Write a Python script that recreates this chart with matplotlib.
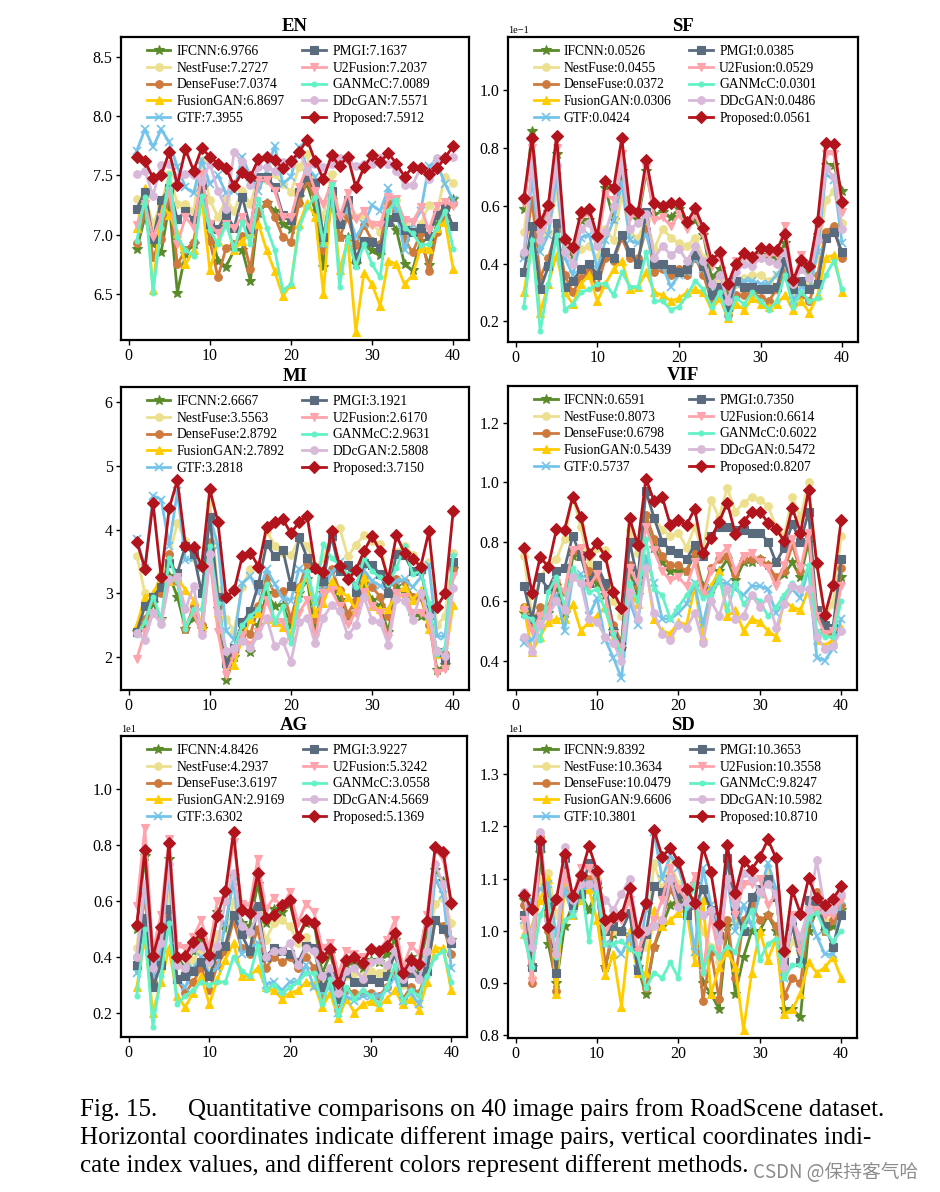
import matplotlib
matplotlib.use("Agg")
import matplotlib.pyplot as plt
import matplotlib.ticker as ticker

plt.rcParams['font.family'] = ['Liberation Serif', 'DejaVu Serif']

methods = ["IFCNN", "NestFuse", "DenseFuse", "FusionGAN", "GTF",
           "PMGI", "U2Fusion", "GANMcC", "DDcGAN", "Proposed"]
colors = ["#5a8a2a", "#ece08e", "#cd7a3c", "#ffcc00", "#74c4ea",
          "#5b6b7e", "#ffa3ad", "#62f2c6", "#d9b9da", "#b2141d"]
markers = ["*", "o", "o", "^", "x", "s", "v", ".", "o", "D"]
pairs = list(range(1, 41))

# values, in axis units (order = methods)
en_vals = [
    [6.88, 7.15, 6.92, 6.85, 7.26, 6.51, 6.84, 6.92, 7.32, 7.06, 6.78, 6.73, 6.87, 6.87, 6.61, 7.18, 7.27, 7.20, 7.09, 7.05,
     7.32, 7.43, 7.20, 6.73, 7.29, 6.98, 6.98, 6.75, 6.92, 6.87, 6.83, 7.15, 7.04, 6.75, 6.70, 6.95, 6.74, 7.09, 7.15, 7.30],
    [7.30, 7.33, 7.09, 7.26, 7.51, 7.26, 7.26, 7.20, 7.63, 7.29, 7.15, 7.30, 7.20, 7.37, 7.26, 7.49, 7.46, 7.51, 7.43, 7.36,
     7.57, 7.68, 7.32, 7.15, 7.51, 7.15, 7.20, 7.15, 7.15, 7.09, 7.02, 7.27, 7.29, 7.09, 7.04, 7.09, 7.25, 7.20, 7.49, 7.44],
    [6.93, 7.19, 6.81, 6.96, 7.35, 6.75, 6.87, 6.94, 7.33, 6.95, 6.64, 6.89, 6.92, 6.99, 6.71, 7.20, 7.27, 7.15, 6.98, 6.94,
     7.27, 7.46, 7.29, 6.87, 7.32, 6.98, 7.15, 6.91, 7.08, 6.95, 6.92, 7.27, 7.20, 6.96, 6.85, 7.01, 6.69, 7.02, 7.17, 7.27],
    [7.06, 7.39, 6.53, 7.26, 7.17, 7.01, 6.75, 6.87, 7.32, 6.70, 6.95, 7.12, 6.87, 6.95, 7.01, 7.09, 6.87, 6.69, 6.48, 6.58,
     7.09, 7.27, 7.15, 6.50, 7.37, 6.70, 6.95, 6.18, 6.68, 6.58, 6.40, 6.78, 6.75, 6.58, 6.66, 6.89, 6.88, 7.06, 7.11, 6.71],
    [7.71, 7.89, 7.74, 7.89, 7.78, 7.57, 7.40, 7.35, 7.63, 7.43, 7.50, 7.35, 7.37, 7.66, 7.49, 7.37, 7.54, 7.75, 7.43, 7.49,
     7.74, 7.57, 7.49, 6.92, 7.35, 7.15, 7.20, 6.98, 7.09, 7.25, 7.20, 7.39, 7.20, 6.87, 7.09, 7.20, 7.58, 7.60, 7.43, 7.29],
    [7.22, 7.36, 6.96, 7.29, 7.39, 7.13, 7.20, 7.12, 7.42, 7.09, 7.05, 7.17, 7.06, 7.32, 7.05, 7.49, 7.49, 7.40, 7.17, 7.12,
     7.36, 7.49, 7.44, 6.98, 7.37, 7.09, 7.29, 6.80, 6.95, 6.94, 6.89, 7.11, 7.15, 7.04, 7.02, 7.06, 6.99, 7.17, 7.23, 7.07],
    [7.08, 7.26, 6.98, 7.15, 7.37, 6.92, 7.15, 7.06, 7.51, 7.09, 7.01, 7.09, 7.06, 7.15, 7.06, 7.46, 7.46, 7.37, 7.15, 7.15,
     7.40, 7.57, 7.37, 7.26, 7.43, 7.15, 7.35, 7.13, 7.20, 7.08, 7.08, 7.32, 7.30, 7.12, 7.11, 7.23, 7.04, 7.24, 7.28, 7.24],
    [6.95, 7.32, 6.51, 7.06, 7.51, 6.98, 6.87, 6.82, 7.33, 7.04, 6.92, 7.09, 6.88, 7.11, 6.92, 7.30, 7.06, 6.87, 6.53, 6.58,
     7.06, 7.23, 7.32, 6.92, 7.43, 6.56, 6.98, 6.73, 6.92, 6.75, 6.64, 7.20, 7.29, 7.06, 7.01, 6.91, 6.92, 7.06, 7.20, 6.88],
    [7.51, 7.54, 7.33, 7.59, 7.60, 7.49, 7.51, 7.50, 7.45, 7.60, 7.37, 7.22, 7.70, 7.61, 7.42, 7.57, 7.57, 7.54, 7.61, 7.60,
     7.71, 7.54, 7.60, 7.57, 7.60, 7.65, 7.63, 7.58, 7.60, 7.60, 7.65, 7.60, 7.54, 7.42, 7.42, 7.57, 7.47, 7.65, 7.65, 7.66],
    [7.66, 7.62, 7.48, 7.50, 7.70, 7.42, 7.72, 7.54, 7.73, 7.66, 7.60, 7.56, 7.41, 7.53, 7.49, 7.64, 7.66, 7.63, 7.56, 7.62,
     7.70, 7.80, 7.62, 7.47, 7.67, 7.58, 7.66, 7.40, 7.57, 7.67, 7.61, 7.69, 7.60, 7.49, 7.57, 7.56, 7.51, 7.56, 7.65, 7.75],
]
en_means = [6.9766, 7.2727, 7.0374, 6.8697, 7.3955, 7.1637, 7.2037, 7.0089, 7.5571, 7.5912]

# SF readings are in units of 1e-1
sf_vals = [
    [0.59, 0.86, 0.52, 0.58, 0.78, 0.47, 0.43, 0.55, 0.55, 0.48, 0.66, 0.55, 0.72, 0.57, 0.55, 0.72, 0.57, 0.58, 0.56, 0.59,
     0.54, 0.55, 0.50, 0.35, 0.38, 0.30, 0.39, 0.43, 0.41, 0.43, 0.42, 0.42, 0.47, 0.33, 0.40, 0.37, 0.50, 0.74, 0.74, 0.65],
    [0.51, 0.72, 0.47, 0.51, 0.65, 0.44, 0.40, 0.45, 0.46, 0.42, 0.52, 0.48, 0.64, 0.50, 0.49, 0.55, 0.45, 0.52, 0.49, 0.47,
     0.46, 0.49, 0.42, 0.31, 0.34, 0.27, 0.33, 0.35, 0.36, 0.36, 0.34, 0.36, 0.40, 0.29, 0.34, 0.33, 0.42, 0.62, 0.65, 0.54],
    [0.43, 0.62, 0.35, 0.42, 0.52, 0.36, 0.30, 0.35, 0.37, 0.32, 0.42, 0.41, 0.49, 0.42, 0.42, 0.52, 0.37, 0.38, 0.36, 0.38,
     0.36, 0.42, 0.36, 0.27, 0.29, 0.22, 0.29, 0.29, 0.30, 0.28, 0.27, 0.31, 0.37, 0.26, 0.29, 0.27, 0.36, 0.51, 0.53, 0.42],
    [0.30, 0.47, 0.23, 0.33, 0.43, 0.30, 0.26, 0.33, 0.36, 0.27, 0.33, 0.38, 0.41, 0.31, 0.32, 0.37, 0.30, 0.29, 0.27, 0.28,
     0.30, 0.31, 0.30, 0.24, 0.28, 0.21, 0.26, 0.24, 0.28, 0.26, 0.25, 0.26, 0.29, 0.24, 0.27, 0.23, 0.29, 0.42, 0.43, 0.30],
    [0.42, 0.70, 0.44, 0.50, 0.70, 0.42, 0.36, 0.49, 0.50, 0.38, 0.48, 0.55, 0.68, 0.48, 0.47, 0.50, 0.40, 0.39, 0.32, 0.36,
     0.37, 0.42, 0.38, 0.30, 0.31, 0.23, 0.33, 0.34, 0.34, 0.33, 0.33, 0.36, 0.40, 0.27, 0.32, 0.31, 0.44, 0.71, 0.69, 0.47],
    [0.37, 0.53, 0.31, 0.39, 0.54, 0.32, 0.34, 0.38, 0.40, 0.36, 0.44, 0.42, 0.50, 0.44, 0.40, 0.58, 0.40, 0.40, 0.38, 0.37,
     0.38, 0.43, 0.39, 0.29, 0.32, 0.25, 0.34, 0.32, 0.32, 0.31, 0.31, 0.32, 0.41, 0.31, 0.34, 0.31, 0.33, 0.49, 0.51, 0.44],
    [0.61, 0.80, 0.50, 0.58, 0.80, 0.47, 0.44, 0.56, 0.57, 0.47, 0.64, 0.62, 0.78, 0.56, 0.57, 0.73, 0.55, 0.56, 0.53, 0.57,
     0.52, 0.57, 0.50, 0.39, 0.42, 0.32, 0.41, 0.42, 0.41, 0.42, 0.43, 0.43, 0.53, 0.34, 0.43, 0.39, 0.52, 0.78, 0.78, 0.58],
    [0.25, 0.48, 0.165, 0.33, 0.50, 0.24, 0.26, 0.30, 0.31, 0.33, 0.33, 0.29, 0.37, 0.32, 0.32, 0.44, 0.27, 0.27, 0.24, 0.25,
     0.29, 0.34, 0.31, 0.25, 0.30, 0.21, 0.28, 0.26, 0.30, 0.27, 0.24, 0.27, 0.36, 0.25, 0.30, 0.27, 0.28, 0.36, 0.41, 0.31],
    [0.44, 0.74, 0.48, 0.55, 0.74, 0.44, 0.40, 0.52, 0.54, 0.46, 0.51, 0.60, 0.74, 0.52, 0.54, 0.57, 0.42, 0.46, 0.43, 0.45,
     0.41, 0.46, 0.41, 0.33, 0.36, 0.27, 0.37, 0.40, 0.39, 0.42, 0.41, 0.40, 0.44, 0.33, 0.38, 0.35, 0.48, 0.73, 0.70, 0.52],
    [0.628, 0.835, 0.543, 0.604, 0.842, 0.486, 0.458, 0.578, 0.589, 0.495, 0.686, 0.663, 0.834, 0.588, 0.579, 0.758, 0.608,
     0.598, 0.608, 0.611, 0.543, 0.591, 0.523, 0.411, 0.439, 0.328, 0.400, 0.438, 0.423, 0.454, 0.450, 0.448, 0.504, 0.342,
     0.411, 0.391, 0.548, 0.819, 0.813, 0.612],
]
sf_means = [0.0526, 0.0455, 0.0372, 0.0306, 0.0424, 0.0385, 0.0529, 0.0301, 0.0486, 0.0561]

mi_vals = [
    [2.40, 2.50, 2.85, 2.60, 3.28, 2.95, 2.45, 2.62, 2.45, 3.70, 2.75, 1.65, 2.00, 2.40, 2.08, 2.50, 3.00, 2.80, 2.82, 2.50,
     3.00, 3.22, 2.40, 3.00, 3.15, 2.90, 2.60, 2.75, 3.15, 2.90, 2.80, 2.40, 3.12, 3.00, 2.65, 2.65, 2.58, 1.80, 1.88, 3.38],
    [3.59, 3.00, 2.95, 3.30, 3.60, 4.10, 3.82, 3.55, 3.50, 4.42, 3.05, 2.60, 2.42, 3.10, 3.38, 3.40, 3.98, 3.75, 3.63, 3.60,
     3.85, 3.75, 3.40, 3.55, 3.93, 4.03, 3.58, 3.76, 3.91, 3.82, 3.78, 3.20, 3.65, 3.75, 3.60, 3.42, 3.50, 2.50, 2.65, 3.64],
    [2.40, 2.60, 2.90, 3.00, 3.62, 3.20, 2.45, 2.80, 2.50, 3.80, 2.80, 1.90, 2.10, 2.50, 2.36, 2.80, 3.25, 3.00, 3.04, 2.60,
     3.10, 3.47, 2.60, 3.10, 3.38, 3.05, 2.68, 2.90, 3.26, 3.10, 2.95, 2.65, 3.22, 3.18, 2.95, 2.95, 2.50, 2.10, 2.05, 3.38],
    [2.50, 2.95, 3.00, 3.25, 3.20, 3.25, 3.05, 2.90, 2.50, 3.65, 2.70, 2.05, 1.88, 2.30, 2.60, 2.70, 2.60, 2.55, 2.48, 2.35,
     3.10, 3.25, 2.70, 2.85, 3.20, 3.05, 2.95, 2.75, 3.25, 2.80, 2.75, 2.75, 3.00, 3.10, 2.90, 3.05, 2.45, 2.05, 2.00, 2.82],
    [3.86, 3.40, 4.53, 4.47, 3.75, 4.60, 3.52, 3.55, 3.40, 4.20, 3.75, 2.42, 2.28, 3.16, 3.27, 3.00, 3.38, 3.15, 2.92, 2.89,
     3.39, 3.30, 2.85, 3.05, 3.32, 3.50, 3.25, 3.15, 3.36, 3.20, 3.12, 3.10, 3.20, 3.22, 3.10, 3.25, 3.45, 2.33, 2.33, 3.55],
    [2.40, 2.80, 2.95, 3.10, 3.48, 3.32, 3.75, 3.62, 3.00, 4.20, 2.95, 1.92, 2.15, 2.55, 2.72, 3.15, 3.78, 3.58, 3.68, 3.12,
     3.88, 3.56, 3.40, 3.20, 3.90, 3.35, 3.45, 3.02, 3.47, 3.44, 3.30, 3.00, 3.62, 3.60, 3.35, 3.38, 2.75, 2.08, 1.98, 3.50],
    [1.98, 2.40, 2.70, 2.55, 3.20, 3.25, 2.50, 2.70, 2.35, 3.55, 2.40, 1.72, 2.05, 2.35, 2.20, 2.40, 2.90, 2.55, 2.55, 2.25,
     2.70, 2.90, 2.30, 3.00, 3.05, 2.80, 2.52, 2.70, 3.02, 2.80, 2.70, 2.30, 3.00, 2.95, 2.70, 2.70, 2.60, 1.75, 1.82, 3.28],
    [2.35, 2.55, 2.95, 2.60, 3.55, 3.20, 2.45, 2.75, 2.75, 3.75, 2.85, 2.10, 2.15, 2.50, 2.65, 2.75, 3.15, 2.55, 2.80, 2.22,
     2.90, 3.35, 2.85, 3.78, 3.55, 3.45, 3.30, 3.10, 3.55, 3.35, 3.25, 3.15, 3.40, 3.75, 3.30, 3.35, 2.85, 2.05, 2.15, 3.60],
    [2.38, 2.28, 2.70, 2.52, 3.22, 3.25, 2.75, 3.12, 2.35, 3.62, 2.70, 2.10, 2.15, 2.25, 2.15, 2.35, 2.62, 2.18, 2.25, 1.93,
     2.55, 2.62, 2.22, 2.62, 2.82, 2.72, 2.35, 2.50, 2.95, 2.58, 2.55, 2.20, 2.92, 2.88, 2.58, 3.00, 2.65, 2.10, 2.02, 3.08],
    [3.81, 3.39, 4.42, 3.25, 4.34, 4.77, 3.74, 3.72, 3.43, 4.63, 4.12, 2.95, 3.05, 3.58, 3.64, 3.42, 4.04, 4.12, 4.16, 3.94,
     4.12, 4.21, 3.40, 3.34, 3.97, 3.43, 3.22, 3.36, 3.66, 3.90, 3.66, 3.22, 3.91, 3.63, 3.54, 3.42, 3.97, 2.79, 3.00, 4.29],
]
mi_means = [2.6667, 3.5563, 2.8792, 2.7892, 3.2818, 3.1921, 2.6170, 2.9631, 2.5808, 3.7150]

vif_vals = [
    [0.56, 0.52, 0.55, 0.56, 0.65, 0.56, 0.75, 0.76, 0.68, 0.66, 0.62, 0.50, 0.44, 0.70, 0.62, 0.86, 0.78, 0.73, 0.70, 0.70,
     0.70, 0.76, 0.65, 0.64, 0.70, 0.74, 0.67, 0.73, 0.73, 0.74, 0.72, 0.67, 0.69, 0.73, 0.68, 0.80, 0.55, 0.50, 0.49, 0.68],
    [0.75, 0.55, 0.68, 0.72, 0.74, 0.81, 0.95, 0.85, 0.72, 0.78, 0.77, 0.60, 0.55, 0.84, 0.76, 0.97, 0.88, 0.84, 0.82, 0.83,
     0.78, 0.85, 0.76, 0.94, 0.88, 0.98, 0.90, 0.93, 0.95, 0.94, 0.92, 0.85, 0.82, 0.95, 0.88, 1.00, 0.72, 0.55, 0.59, 0.82],
    [0.58, 0.52, 0.58, 0.58, 0.66, 0.63, 0.77, 0.75, 0.70, 0.68, 0.64, 0.52, 0.46, 0.72, 0.65, 0.89, 0.81, 0.75, 0.72, 0.72,
     0.70, 0.77, 0.63, 0.71, 0.74, 0.75, 0.69, 0.74, 0.74, 0.74, 0.72, 0.68, 0.70, 0.79, 0.70, 0.82, 0.56, 0.50, 0.49, 0.71],
    [0.58, 0.43, 0.48, 0.53, 0.54, 0.54, 0.59, 0.50, 0.53, 0.55, 0.58, 0.47, 0.43, 0.62, 0.59, 0.72, 0.54, 0.50, 0.49, 0.53,
     0.52, 0.65, 0.48, 0.65, 0.70, 0.55, 0.57, 0.50, 0.54, 0.53, 0.50, 0.48, 0.60, 0.58, 0.57, 0.64, 0.47, 0.45, 0.47, 0.51],
    [0.46, 0.47, 0.52, 0.56, 0.62, 0.50, 0.68, 0.69, 0.55, 0.61, 0.47, 0.41, 0.34, 0.60, 0.52, 0.75, 0.66, 0.54, 0.54, 0.56,
     0.59, 0.66, 0.52, 0.64, 0.66, 0.66, 0.64, 0.62, 0.65, 0.65, 0.64, 0.56, 0.60, 0.64, 0.61, 0.71, 0.41, 0.40, 0.44, 0.54],
    [0.65, 0.54, 0.68, 0.64, 0.70, 0.71, 0.82, 0.75, 0.66, 0.72, 0.66, 0.50, 0.45, 0.80, 0.67, 0.97, 0.88, 0.80, 0.77, 0.76,
     0.74, 0.79, 0.75, 0.82, 0.85, 0.85, 0.84, 0.84, 0.83, 0.83, 0.80, 0.73, 0.78, 0.86, 0.80, 0.90, 0.57, 0.52, 0.51, 0.74],
    [0.57, 0.50, 0.55, 0.57, 0.66, 0.63, 0.77, 0.78, 0.65, 0.69, 0.62, 0.49, 0.44, 0.71, 0.66, 0.85, 0.77, 0.70, 0.67, 0.68,
     0.65, 0.73, 0.62, 0.70, 0.75, 0.78, 0.70, 0.75, 0.76, 0.73, 0.71, 0.65, 0.72, 0.81, 0.71, 0.83, 0.55, 0.49, 0.50, 0.65],
    [0.55, 0.54, 0.47, 0.63, 0.68, 0.58, 0.71, 0.67, 0.63, 0.64, 0.57, 0.49, 0.42, 0.66, 0.60, 0.81, 0.64, 0.62, 0.54, 0.58,
     0.62, 0.66, 0.61, 0.62, 0.68, 0.57, 0.66, 0.59, 0.62, 0.60, 0.55, 0.58, 0.62, 0.66, 0.64, 0.72, 0.50, 0.48, 0.48, 0.60],
    [0.48, 0.43, 0.52, 0.55, 0.60, 0.57, 0.68, 0.66, 0.54, 0.53, 0.48, 0.46, 0.40, 0.63, 0.54, 0.71, 0.56, 0.49, 0.47, 0.52,
     0.51, 0.56, 0.46, 0.60, 0.55, 0.64, 0.54, 0.55, 0.62, 0.58, 0.61, 0.51, 0.59, 0.65, 0.64, 0.64, 0.48, 0.44, 0.45, 0.50],
    [0.778, 0.626, 0.747, 0.716, 0.841, 0.839, 0.951, 0.884, 0.759, 0.794, 0.750, 0.632, 0.575, 0.878, 0.789, 1.011, 0.937,
     0.951, 0.856, 0.873, 0.856, 0.910, 0.761, 0.811, 0.866, 0.931, 0.826, 0.865, 0.901, 0.901, 0.864, 0.843, 0.802, 0.914,
     0.830, 0.973, 0.727, 0.553, 0.653, 0.872],
]
vif_means = [0.6591, 0.8073, 0.6798, 0.5439, 0.5737, 0.7350, 0.6614, 0.6022, 0.5472, 0.8207]

# AG readings are in units of 1e1
ag_vals = [
    [0.50, 0.76, 0.38, 0.48, 0.75, 0.40, 0.36, 0.42, 0.46, 0.39, 0.56, 0.50, 0.69, 0.52, 0.51, 0.66, 0.52, 0.57, 0.56, 0.59,
     0.47, 0.52, 0.52, 0.34, 0.41, 0.30, 0.37, 0.38, 0.36, 0.39, 0.38, 0.41, 0.46, 0.33, 0.40, 0.36, 0.49, 0.71, 0.67, 0.46],
    [0.43, 0.65, 0.38, 0.44, 0.63, 0.37, 0.35, 0.39, 0.42, 0.37, 0.48, 0.44, 0.60, 0.49, 0.48, 0.56, 0.46, 0.52, 0.53, 0.51,
     0.45, 0.47, 0.43, 0.31, 0.36, 0.26, 0.33, 0.34, 0.33, 0.35, 0.34, 0.36, 0.42, 0.30, 0.34, 0.32, 0.42, 0.59, 0.61, 0.52],
    [0.40, 0.62, 0.31, 0.39, 0.55, 0.32, 0.27, 0.31, 0.36, 0.28, 0.37, 0.42, 0.53, 0.43, 0.41, 0.50, 0.36, 0.40, 0.38, 0.40,
     0.36, 0.40, 0.36, 0.26, 0.30, 0.21, 0.28, 0.27, 0.27, 0.27, 0.26, 0.29, 0.34, 0.25, 0.29, 0.27, 0.35, 0.53, 0.51, 0.41],
    [0.29, 0.47, 0.20, 0.31, 0.43, 0.26, 0.22, 0.27, 0.33, 0.23, 0.32, 0.39, 0.45, 0.33, 0.33, 0.36, 0.29, 0.28, 0.25, 0.27,
     0.28, 0.31, 0.30, 0.22, 0.27, 0.18, 0.25, 0.20, 0.23, 0.24, 0.22, 0.25, 0.28, 0.23, 0.25, 0.21, 0.31, 0.43, 0.43, 0.28],
    [0.34, 0.65, 0.33, 0.42, 0.70, 0.32, 0.29, 0.36, 0.40, 0.34, 0.36, 0.52, 0.67, 0.41, 0.43, 0.45, 0.30, 0.31, 0.28, 0.31,
     0.31, 0.37, 0.29, 0.27, 0.29, 0.20, 0.26, 0.24, 0.26, 0.26, 0.26, 0.28, 0.33, 0.24, 0.27, 0.23, 0.39, 0.68, 0.62, 0.36],
    [0.37, 0.54, 0.29, 0.37, 0.57, 0.32, 0.33, 0.35, 0.38, 0.33, 0.41, 0.44, 0.55, 0.48, 0.42, 0.58, 0.40, 0.43, 0.42, 0.41,
     0.38, 0.44, 0.43, 0.29, 0.33, 0.25, 0.34, 0.31, 0.31, 0.32, 0.31, 0.33, 0.41, 0.31, 0.34, 0.33, 0.35, 0.53, 0.50, 0.45],
    [0.58, 0.86, 0.42, 0.55, 0.82, 0.44, 0.43, 0.47, 0.53, 0.43, 0.60, 0.62, 0.81, 0.59, 0.58, 0.75, 0.57, 0.61, 0.58, 0.63,
     0.52, 0.59, 0.56, 0.43, 0.45, 0.34, 0.42, 0.41, 0.40, 0.42, 0.42, 0.46, 0.53, 0.36, 0.44, 0.41, 0.55, 0.78, 0.75, 0.58],
    [0.26, 0.50, 0.15, 0.33, 0.52, 0.23, 0.26, 0.28, 0.31, 0.30, 0.31, 0.31, 0.40, 0.35, 0.33, 0.44, 0.28, 0.30, 0.27, 0.29,
     0.31, 0.34, 0.34, 0.23, 0.32, 0.19, 0.29, 0.25, 0.28, 0.26, 0.23, 0.29, 0.37, 0.24, 0.28, 0.26, 0.33, 0.40, 0.42, 0.31],
    [0.40, 0.66, 0.36, 0.45, 0.73, 0.37, 0.36, 0.43, 0.44, 0.38, 0.44, 0.60, 0.70, 0.51, 0.49, 0.55, 0.40, 0.42, 0.42, 0.45,
     0.37, 0.43, 0.42, 0.33, 0.36, 0.27, 0.35, 0.36, 0.32, 0.38, 0.39, 0.37, 0.42, 0.32, 0.36, 0.32, 0.42, 0.73, 0.66, 0.46],
    [0.513, 0.780, 0.402, 0.506, 0.808, 0.400, 0.402, 0.454, 0.483, 0.405, 0.546, 0.635, 0.845, 0.567, 0.558, 0.698, 0.540,
     0.550, 0.585, 0.602, 0.471, 0.531, 0.521, 0.398, 0.429, 0.305, 0.388, 0.400, 0.376, 0.427, 0.421, 0.438, 0.486, 0.340,
     0.388, 0.373, 0.529, 0.792, 0.775, 0.593],
]
ag_means = [4.8426, 4.2937, 3.6197, 2.9169, 3.6302, 3.9227, 5.3242, 3.0558, 4.5669, 5.1369]

# SD readings are in units of 1e1
sd_vals = [
    [1.06, 0.93, 1.15, 0.975, 0.90, 1.01, 1.05, 1.07, 1.04, 1.08, 0.93, 0.995, 1.00, 0.99, 0.93, 0.88, 0.97, 1.01, 1.05, 1.06,
     1.05, 1.09, 0.90, 0.88, 0.85, 1.01, 0.88, 0.95, 1.00, 1.00, 1.03, 1.00, 0.85, 0.85, 0.835, 1.00, 1.04, 1.00, 1.01, 1.04],
    [1.01, 0.91, 1.10, 1.11, 1.03, 1.07, 1.04, 1.08, 1.09, 1.10, 1.00, 1.00, 1.00, 0.99, 0.95, 0.97, 1.13, 1.08, 1.13, 1.09,
     1.03, 1.05, 1.00, 0.97, 0.94, 1.14, 1.02, 1.00, 1.05, 1.07, 1.11, 1.07, 0.92, 0.98, 0.96, 1.04, 1.05, 1.02, 1.02, 1.05],
    [1.05, 0.90, 1.18, 1.00, 0.885, 1.10, 1.05, 1.07, 1.10, 1.08, 0.93, 1.01, 1.00, 0.99, 0.93, 0.89, 0.97, 1.02, 1.08, 1.05,
     1.06, 1.06, 0.865, 0.96, 0.87, 1.02, 0.91, 1.02, 1.05, 1.02, 1.03, 1.01, 0.875, 0.91, 0.90, 1.02, 1.075, 1.00, 1.02, 1.05],
    [0.995, 1.01, 1.06, 1.10, 0.88, 1.09, 1.03, 1.06, 1.08, 1.02, 0.915, 0.955, 0.855, 1.00, 0.92, 0.92, 1.04, 1.01, 1.02,
     1.035, 1.04, 0.94, 1.06, 0.88, 0.93, 0.96, 0.93, 0.81, 0.92, 1.00, 0.945, 0.985, 0.84, 0.85, 0.88, 0.94, 0.92, 0.93,
     0.95, 0.91],
    [1.02, 1.06, 1.08, 1.09, 0.99, 1.08, 1.03, 1.07, 1.09, 1.07, 0.975, 0.975, 0.955, 0.99, 0.94, 1.04, 1.19, 1.10, 1.145,
     1.12, 1.07, 0.96, 1.12, 1.05, 1.00, 1.10, 1.00, 1.05, 1.01, 1.07, 1.13, 1.08, 0.91, 1.03, 0.97, 1.03, 0.99, 0.955,
     0.955, 1.06],
    [1.03, 0.93, 1.16, 1.05, 0.92, 1.14, 1.05, 1.07, 1.13, 1.09, 1.00, 1.01, 1.00, 1.035, 0.925, 0.995, 1.085, 1.075, 1.10,
     1.07, 1.03, 1.05, 1.08, 1.04, 0.99, 1.14, 1.04, 1.00, 1.065, 1.08, 1.10, 1.065, 0.94, 1.01, 0.94, 1.06, 1.05, 1.01,
     0.97, 1.03],
    [1.02, 0.905, 1.18, 1.03, 0.96, 1.11, 1.06, 1.12, 1.12, 1.09, 1.00, 1.02, 1.02, 1.06, 0.96, 1.00, 1.02, 1.06, 1.12, 1.08,
     1.06, 1.105, 0.92, 1.03, 0.95, 1.10, 1.03, 1.09, 1.09, 1.10, 1.05, 1.07, 0.92, 1.03, 0.96, 1.04, 1.04, 1.03, 1.03, 1.06],
    [0.99, 0.93, 1.03, 1.06, 0.95, 1.02, 1.03, 1.10, 0.98, 1.09, 0.975, 0.975, 0.98, 0.965, 0.955, 0.89, 0.92, 0.91, 0.94,
     0.91, 1.05, 1.09, 0.92, 0.97, 0.95, 0.97, 0.96, 1.01, 1.04, 0.945, 0.975, 0.985, 0.91, 0.935, 0.935, 1.025, 1.035,
     1.00, 0.98, 1.00],
    [1.075, 0.97, 1.19, 1.02, 0.955, 1.16, 1.06, 1.09, 1.09, 1.085, 1.06, 1.04, 1.07, 1.10, 1.00, 1.00, 1.01, 1.02, 1.10,
     1.045, 1.055, 1.05, 1.03, 1.04, 0.98, 1.10, 1.05, 1.11, 1.10, 1.075, 1.09, 1.07, 0.93, 1.02, 0.99, 1.04, 1.135, 1.04,
     1.04, 1.07],
    [1.069, 1.042, 1.172, 1.008, 1.061, 1.148, 1.066, 1.107, 1.162, 1.115, 1.020, 1.027, 1.030, 1.082, 0.997, 1.054, 1.193,
     1.142, 1.159, 1.132, 1.081, 1.053, 1.160, 1.112, 1.014, 1.164, 1.073, 1.134, 1.117, 1.141, 1.175, 1.139, 0.962, 1.078,
     1.033, 1.101, 1.062, 1.050, 1.061, 1.085],
]
sd_means = [9.8392, 10.3634, 10.0479, 9.6606, 10.3801, 10.3653, 10.3558, 9.8247, 10.5982, 10.8710]


class FixedOrderFormatter(ticker.ScalarFormatter):
    # always show the given power of ten in the offset text
    def __init__(self, order, fmt="%1.1f"):
        self.order = order
        self.fixed_fmt = fmt
        super().__init__(useOffset=False, useMathText=False)

    def _set_order_of_magnitude(self):
        self.orderOfMagnitude = self.order

    def _set_format(self):
        self.format = self.fixed_fmt


# (title, values, means, unit, ylim in shown units, tick step, tick format, box in px: left, top, right, bottom)
panels = [
    ("EN", en_vals, en_means, 1, (6.11, 8.67), 0.5, "%.1f", (121, 37, 469, 340)),
    ("SF", sf_vals, sf_means, 0.1, (0.128, 1.185), 0.2, "%.1f", (508, 37, 858, 342)),
    ("MI", mi_vals, mi_means, 1, (1.49, 6.23), 1, "%d", (121, 387, 469, 690)),
    ("VIF", vif_vals, vif_means, 1, (0.301, 1.323), 0.2, "%.1f", (508, 386, 857, 690)),
    ("AG", ag_vals, ag_means, 10, (0.113, 1.189), 0.2, "%.1f", (121, 736, 467, 1037)),
    ("SD", sd_vals, sd_means, 10, (0.795, 1.373), 0.1, "%.1f", (508, 736, 857, 1038)),
]

W, H = 940, 1192
fig = plt.figure(figsize=(W / 100, H / 100), dpi=100)
fig.patch.set_facecolor("white")

for title, vals, means, unit, ylim, step, fmt, box in panels:
    l, t, r, b = box
    ax = fig.add_axes([l / W, 1 - b / H, (r - l) / W, (b - t) / H])
    for i, name in enumerate(methods):
        ys = [v * unit for v in vals[i]]
        ms = 6.5 if markers[i] == "D" else (7 if markers[i] in ("*", ".") else 5.5)
        ax.plot(pairs, ys, color=colors[i], marker=markers[i], markersize=ms,
                linewidth=2.0, markeredgewidth=1.2 if markers[i] == "x" else 0.8,
                label=f"{name}:{means[i]:.4f}", zorder=2 + i * 0.1)

    ax.set_xlim(-0.95, 41.95)
    ax.set_ylim(ylim[0] * unit, ylim[1] * unit)
    ax.xaxis.set_major_locator(ticker.MultipleLocator(10))
    ax.yaxis.set_major_locator(ticker.MultipleLocator(step * unit))
    if unit == 1:
        ax.yaxis.set_major_formatter(ticker.FormatStrFormatter(fmt))
    else:
        order = 1 if unit == 10 else -1
        ax.yaxis.set_major_formatter(FixedOrderFormatter(order))
        ax.yaxis.get_offset_text().set_fontsize(7.5)

    ax.tick_params(labelsize=11.5, direction="out", length=3.5, width=1, pad=2.5)
    for sp in ax.spines.values():
        sp.set_linewidth(1.6)
    ax.set_title(title, fontsize=13.5, fontweight="bold", pad=4)

    ax.legend(ncol=2, loc="upper left", bbox_to_anchor=(0.06, 0.99), borderaxespad=0.0,
              frameon=False, fontsize=9.8, labelspacing=0.28, columnspacing=1.3,
              handlelength=1.75, handletextpad=0.45, borderpad=0.35)

# caption below the grid
cap_size = 18
fig.text(80 / W, 1 - 1116 / H, "Fig. 15.", fontsize=cap_size, va="baseline")
fig.text(188 / W, 1 - 1116 / H, "Quantitative comparisons on 40 image pairs from RoadScene dataset.",
         fontsize=cap_size, va="baseline")
fig.text(80 / W, 1 - 1144 / H, "Horizontal coordinates indicate different image pairs, vertical coordinates indi-",
         fontsize=cap_size, va="baseline")
fig.text(80 / W, 1 - 1172 / H, "cate index values, and different colors represent different methods.",
         fontsize=cap_size, va="baseline")
fig.text(753 / W, 1 - 1178 / H, "CSDN @保持客气哈", fontsize=13.5, color="#8c8c8c", va="baseline",
         family=["Noto Sans CJK SC", "DejaVu Sans"])

fig.savefig("out.png", dpi=100)
